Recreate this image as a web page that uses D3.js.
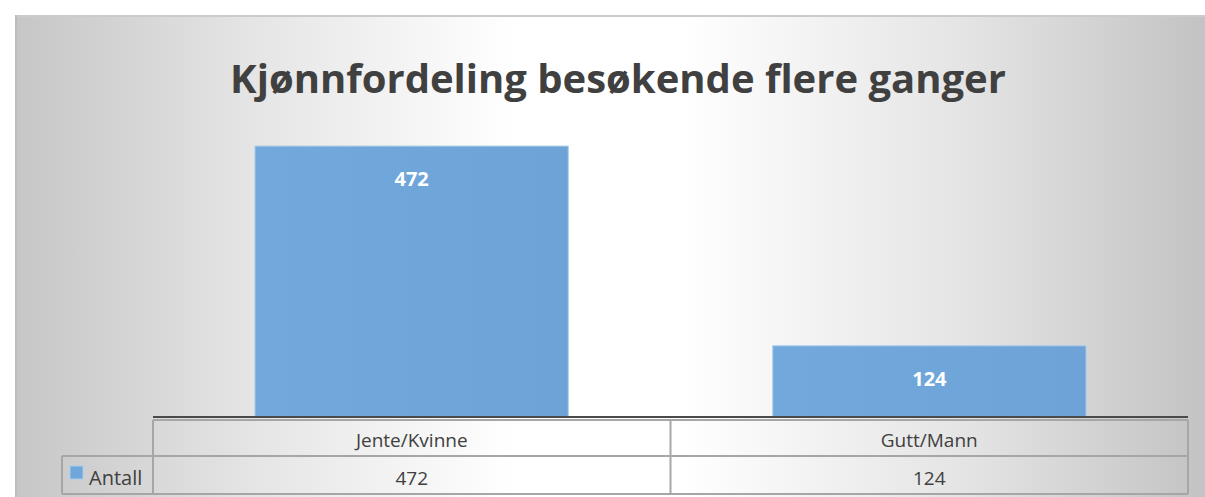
<!DOCTYPE html>
<html>
<head>
<meta charset="utf-8">
<script src="https://cdn.jsdelivr.net/npm/d3@7"></script>
<style>
  body { margin: 0; background: #fff; }
  svg { display: block; }
</style>
</head>
<body>
<svg id="chart" width="1205" height="497"></svg>
<script>
let title = "Kjønnfordeling besøkende flere ganger";
let categories = ["Jente/Kvinne", "Gutt/Mann"];
let seriesName = "Antall";
let values = [472, 124];

let width = 1205, height = 497;
let svg = d3.select("#chart");
let font = "'Open Sans', 'DejaVu Sans', sans-serif";

let plot = {left: 153, right: 1188, top: 130, bottom: 417};
let table = {left: 62, headTop: 420, rowTop: 456, bottom: 494};

let scales = {
  x: d3.scaleBand().domain(categories).range([plot.left, plot.right]).paddingInner(0.395).paddingOuter(0.197),
  y: d3.scaleLinear().domain([0, 500]).range([plot.bottom, plot.top]),
  col: d3.scaleBand().domain(categories).range([plot.left, plot.right])
};

// background, gray at the sides and white in the middle
let defs = svg.append("defs");
let grad = defs.append("linearGradient").attr("id", "bg")
  .attr("x1", 0).attr("x2", 1).attr("y1", 0).attr("y2", 0);
[[0, "#c6c6c6"], [0.2, "#e5e5e5"], [0.42, "#ffffff"], [0.56, "#ffffff"], [0.8, "#e4e4e4"], [1, "#c3c3c3"]]
  .forEach(s => grad.append("stop").attr("offset", s[0]).attr("stop-color", s[1]));

let barGrad = defs.append("linearGradient").attr("id", "barfill").attr("x1", 0).attr("x2", 1).attr("y1", 0).attr("y2", 0);
barGrad.append("stop").attr("offset", "0").attr("stop-color", "#72a9dc");
barGrad.append("stop").attr("offset", "1").attr("stop-color", "#6da3d7");

svg.append("rect").attr("x", 15).attr("y", 15).attr("width", width - 15).attr("height", height - 15)
  .attr("fill", "url(#bg)");
svg.append("line").attr("x1", 15).attr("x2", width).attr("y1", 16).attr("y2", 16)
  .attr("stroke", "#cbcbcb").attr("stroke-width", 2);
svg.append("line").attr("x1", 16).attr("x2", 16).attr("y1", 15).attr("y2", height)
  .attr("stroke", "#bdbdbd").attr("stroke-width", 2);

// title
svg.append("text").attr("x", 618).attr("y", 93)
  .attr("text-anchor", "middle")
  .style("font-family", font).style("font-size", "40px").style("font-weight", "bold")
  .attr("fill", "#404040")
  .text(title);

// bars
svg.selectAll(".bar")
  .data(values)
  .enter()
  .append("rect")
  .attr("class", "bar")
  .attr("x", (d, i) => scales.x(categories[i]))
  .attr("y", d => scales.y(d))
  .attr("width", scales.x.bandwidth())
  .attr("height", d => scales.y(0) - scales.y(d))
  .attr("fill", "url(#barfill)")
  .attr("stroke", "#a9cbeb")
  .attr("stroke-width", 1);

svg.selectAll(".bar-label")
  .data(values)
  .enter()
  .append("text")
  .attr("class", "bar-label")
  .attr("x", (d, i) => scales.x(categories[i]) + scales.x.bandwidth() / 2)
  .attr("y", d => scales.y(d) + 40)
  .attr("text-anchor", "middle")
  .style("font-family", font).style("font-size", "20px").style("font-weight", "bold")
  .attr("fill", "#ffffff")
  .text(d => d);

// data table
let grid = svg.append("g").attr("stroke", "#a6a6a6").attr("stroke-width", 2).attr("fill", "none");
grid.append("line").attr("x1", plot.left).attr("x2", plot.right).attr("y1", table.headTop).attr("y2", table.headTop);
grid.append("line").attr("x1", table.left).attr("x2", plot.right).attr("y1", table.rowTop).attr("y2", table.rowTop);
grid.append("line").attr("x1", table.left).attr("x2", plot.right).attr("y1", table.bottom).attr("y2", table.bottom);
grid.append("line").attr("x1", table.left).attr("x2", table.left).attr("y1", table.rowTop).attr("y2", table.bottom);
grid.selectAll(".vline")
  .data(categories.concat(["end"]))
  .enter()
  .append("line")
  .attr("x1", d => d === "end" ? plot.right : scales.col(d))
  .attr("x2", d => d === "end" ? plot.right : scales.col(d))
  .attr("y1", table.headTop)
  .attr("y2", table.bottom);

svg.append("line").attr("x1", plot.left).attr("x2", plot.right).attr("y1", plot.bottom).attr("y2", plot.bottom)
  .attr("stroke", "#4a4a4a").attr("stroke-width", 2);

svg.selectAll(".cat-label")
  .data(categories)
  .enter()
  .append("text")
  .attr("class", "cat-label")
  .attr("x", d => scales.col(d) + scales.col.bandwidth() / 2)
  .attr("y", 447)
  .attr("text-anchor", "middle")
  .style("font-family", font).style("font-size", "19px")
  .attr("fill", "#404040")
  .text(d => d);

svg.selectAll(".val-label")
  .data(values)
  .enter()
  .append("text")
  .attr("class", "val-label")
  .attr("x", (d, i) => scales.col(categories[i]) + scales.col.bandwidth() / 2)
  .attr("y", 485)
  .attr("text-anchor", "middle")
  .style("font-family", font).style("font-size", "19px")
  .attr("fill", "#404040")
  .text(d => d);

// legend key in table
svg.append("rect").attr("x", 70).attr("y", 466).attr("width", 13).attr("height", 13)
  .attr("fill", "#70a7da").attr("stroke", "#a9cbeb").attr("stroke-width", 1);
svg.append("text").attr("x", 89).attr("y", 485)
  .style("font-family", font).style("font-size", "20px")
  .attr("fill", "#404040")
  .text(seriesName);
</script>
</body>
</html>
